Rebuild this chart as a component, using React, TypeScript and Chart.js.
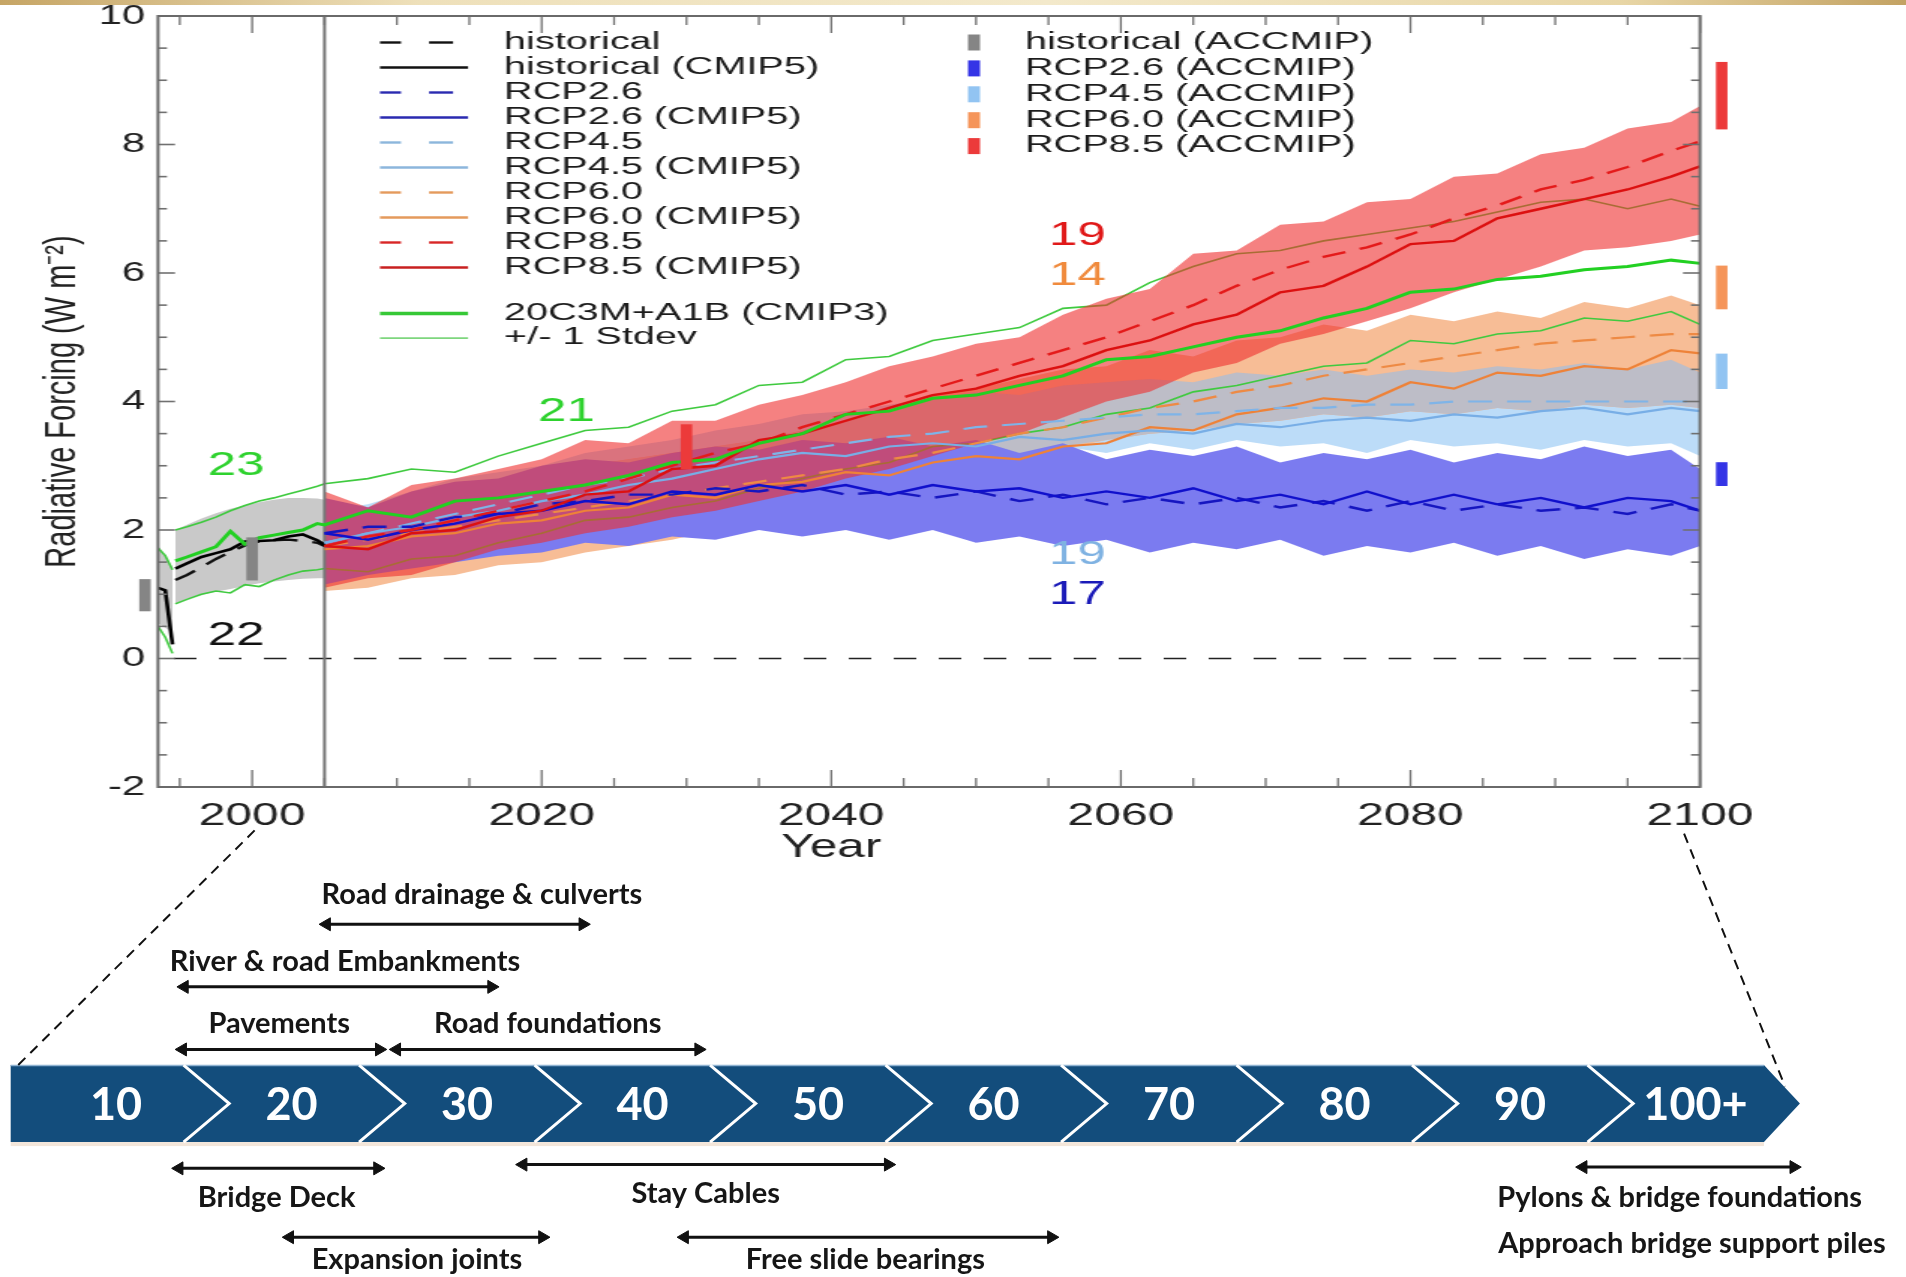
import React, { useEffect, useRef } from "react";
import { Chart, registerables } from "chart.js";

Chart.register(...registerables);

const FONT = "'Liberation Sans', Arial, Helvetica, sans-serif";
const TL_FONT = "Lato, 'Open Sans', sans-serif";

// ---------------- top chart data ----------------
const HIST_YEARS = [1993.5, 1994, 1994.5, 1994.6, 1994.7, 1995.5, 1996.5, 1997.5, 1998.5, 1999.5, 2000.5, 2001.5, 2002.5, 2003.5, 2004.5, 2005];
const HIST_SOLID = [1.1, 1.06, 0.22, null, 1.4, 1.48, 1.58, 1.64, 1.7, 1.82, 1.83, 1.84, 1.9, 1.93, 1.84, 1.77];
const HIST_DASHED = [null, null, null, null, 1.22, 1.3, 1.42, 1.55, 1.66, 1.76, 1.82, 1.84, 1.85, 1.83, 1.8, 1.75];
const HIST_GREY_HI = [1.75, 1.6, 1.42, null, 2.0, 2.08, 2.18, 2.26, 2.33, 2.38, 2.43, 2.47, 2.5, 2.5, 2.49, 2.47];
const HIST_GREY_LO = [0.55, 0.48, 0.4, null, 0.85, 0.93, 0.99, 1.04, 1.08, 1.13, 1.17, 1.2, 1.22, 1.24, 1.25, 1.25];
const CMIP3_MEAN_HIST = [null, null, null, null, 1.52, 1.58, 1.66, 1.74, 1.98, 1.78, 1.88, 1.92, 1.96, 2.0, 2.1, 2.08];
const CMIP3_HI_HIST = [1.72, 1.6, 1.38, null, 2.0, 2.05, 2.12, 2.2, 2.3, 2.38, 2.45, 2.5, 2.56, 2.62, 2.68, 2.72];
const CMIP3_LO_HIST = [0.5, 0.33, 0.08, null, 0.85, 0.92, 1.0, 1.05, 1.02, 1.15, 1.12, 1.22, 1.3, 1.36, 1.38, 1.4];

const FUT_YEARS = [2005, 2008, 2011, 2014, 2017, 2020, 2023, 2026, 2029, 2032, 2035, 2038, 2041, 2044, 2047, 2050, 2053, 2056, 2059, 2062, 2065, 2068, 2071, 2074, 2077, 2080, 2083, 2086, 2089, 2092, 2095, 2098, 2100];

const RCP85_HI = [2.6, 2.35, 2.7, 2.8, 2.95, 3.1, 3.4, 3.35, 3.7, 3.7, 3.95, 4.1, 4.3, 4.55, 4.7, 4.9, 5.0, 5.35, 5.6, 5.75, 6.3, 6.35, 6.75, 6.8, 7.1, 7.15, 7.5, 7.55, 7.85, 7.95, 8.25, 8.35, 8.6];
const RCP85_LO = [1.1, 1.25, 1.3, 1.5, 1.7, 1.8, 1.95, 2.05, 2.2, 2.3, 2.45, 2.6, 2.8, 2.95, 3.15, 3.35, 3.5, 3.75, 4.0, 4.15, 4.45, 4.6, 4.9, 5.05, 5.25, 5.45, 5.7, 5.9, 6.1, 6.35, 6.4, 6.5, 6.6];
const RCP26_HI = [2.5, 2.35, 2.6, 2.75, 2.8, 3.0, 3.1, 3.05, 3.2, 3.3, 3.25, 3.4, 3.35, 3.45, 3.3, 3.4, 3.2, 3.35, 3.1, 3.25, 3.15, 3.3, 3.05, 3.2, 3.1, 3.25, 3.05, 3.2, 3.1, 3.3, 3.15, 3.25, 2.95];
const RCP26_LO = [1.15, 1.3, 1.4, 1.5, 1.6, 1.65, 1.8, 1.75, 1.9, 1.85, 2.0, 1.9, 2.0, 1.85, 2.0, 1.8, 1.9, 1.75, 1.85, 1.65, 1.8, 1.7, 1.85, 1.6, 1.75, 1.65, 1.8, 1.6, 1.75, 1.55, 1.7, 1.6, 1.75];
const RCP45_HI = [2.3, 2.4, 2.6, 2.8, 2.9, 3.0, 3.2, 3.3, 3.4, 3.55, 3.65, 3.8, 3.85, 3.95, 4.05, 4.15, 4.1, 4.25, 4.3, 4.35, 4.3, 4.45, 4.4, 4.5, 4.4, 4.5, 4.45, 4.55, 4.5, 4.6, 4.5, 4.65, 4.45];
const RCP45_LO = [1.3, 1.45, 1.6, 1.75, 1.9, 2.0, 2.15, 2.3, 2.4, 2.55, 2.65, 2.75, 2.9, 3.0, 3.1, 3.2, 3.15, 3.3, 3.2, 3.35, 3.25, 3.4, 3.3, 3.35, 3.2, 3.4, 3.3, 3.35, 3.25, 3.4, 3.3, 3.35, 3.15];
const RCP60_HI = [2.2, 2.3, 2.45, 2.6, 2.7, 2.85, 3.0, 3.1, 3.2, 3.3, 3.4, 3.55, 3.7, 3.9, 4.1, 4.2, 4.35, 4.5, 4.55, 4.8, 4.7, 4.95, 5.0, 5.2, 5.1, 5.35, 5.25, 5.4, 5.3, 5.55, 5.45, 5.65, 5.5];
const RCP60_LO = [1.05, 1.1, 1.25, 1.3, 1.45, 1.5, 1.65, 1.75, 1.85, 2.0, 2.1, 2.3, 2.45, 2.6, 2.8, 2.95, 3.1, 3.25, 3.4, 3.5, 3.55, 3.65, 3.7, 3.8, 3.75, 3.85, 3.8, 3.9, 3.85, 3.95, 3.9, 3.95, 3.9];

const RCP26_CMIP5 = [1.95, 1.85, 2.0, 2.1, 2.25, 2.3, 2.45, 2.4, 2.6, 2.55, 2.7, 2.6, 2.7, 2.55, 2.7, 2.6, 2.65, 2.5, 2.6, 2.5, 2.65, 2.45, 2.55, 2.4, 2.6, 2.4, 2.55, 2.4, 2.5, 2.35, 2.5, 2.45, 2.3];
const RCP26_DASH = [1.95, 2.05, 2.05, 2.2, 2.25, 2.4, 2.45, 2.55, 2.55, 2.65, 2.6, 2.7, 2.55, 2.6, 2.5, 2.6, 2.45, 2.55, 2.4, 2.5, 2.4, 2.5, 2.35, 2.45, 2.3, 2.45, 2.3, 2.4, 2.3, 2.35, 2.25, 2.4, 2.3];
const RCP45_CMIP5 = [1.8, 1.95, 2.05, 2.2, 2.3, 2.45, 2.55, 2.7, 2.8, 2.95, 3.1, 3.2, 3.15, 3.3, 3.35, 3.3, 3.45, 3.4, 3.5, 3.55, 3.5, 3.65, 3.6, 3.7, 3.75, 3.7, 3.8, 3.75, 3.85, 3.9, 3.8, 3.9, 3.85];
const RCP45_DASH = [1.8, 1.95, 2.1, 2.25, 2.4, 2.55, 2.7, 2.8, 2.95, 3.05, 3.15, 3.25, 3.35, 3.45, 3.5, 3.6, 3.65, 3.7, 3.75, 3.8, 3.8, 3.85, 3.9, 3.9, 3.95, 3.95, 4.0, 4.0, 4.0, 4.0, 4.0, 4.0, 4.0];
const RCP60_CMIP5 = [1.7, 1.75, 1.9, 1.95, 2.1, 2.15, 2.3, 2.35, 2.55, 2.5, 2.7, 2.75, 2.9, 2.85, 3.05, 3.15, 3.1, 3.3, 3.35, 3.6, 3.55, 3.8, 3.9, 4.05, 4.0, 4.3, 4.2, 4.45, 4.4, 4.55, 4.5, 4.8, 4.75];
const RCP60_DASH = [1.75, 1.85, 1.95, 2.05, 2.15, 2.25, 2.35, 2.45, 2.55, 2.65, 2.75, 2.85, 2.95, 3.1, 3.2, 3.35, 3.5, 3.6, 3.75, 3.9, 4.0, 4.15, 4.25, 4.4, 4.5, 4.6, 4.7, 4.8, 4.9, 4.95, 5.0, 5.05, 5.05];
const RCP85_CMIP5 = [1.75, 1.7, 1.95, 2.0, 2.2, 2.3, 2.55, 2.6, 2.95, 3.0, 3.4, 3.5, 3.7, 3.9, 4.1, 4.2, 4.4, 4.55, 4.8, 4.95, 5.2, 5.35, 5.7, 5.8, 6.1, 6.45, 6.5, 6.85, 7.0, 7.15, 7.3, 7.5, 7.66];
const RCP85_DASH = [1.75, 1.9, 2.0, 2.15, 2.3, 2.45, 2.6, 2.8, 3.0, 3.2, 3.35, 3.6, 3.8, 4.0, 4.2, 4.4, 4.6, 4.8, 5.0, 5.25, 5.5, 5.8, 6.05, 6.25, 6.4, 6.6, 6.85, 7.05, 7.3, 7.45, 7.65, 7.9, 8.05];

const CMIP3_MEAN_FUT = [2.08, 2.3, 2.2, 2.45, 2.5, 2.6, 2.7, 2.85, 3.05, 3.1, 3.35, 3.5, 3.8, 3.85, 4.05, 4.1, 4.25, 4.4, 4.65, 4.7, 4.85, 5.0, 5.1, 5.3, 5.45, 5.7, 5.75, 5.9, 5.95, 6.05, 6.1, 6.2, 6.15];
const CMIP3_HI_FUT = [2.72, 2.8, 2.95, 2.9, 3.15, 3.35, 3.55, 3.6, 3.85, 3.95, 4.25, 4.3, 4.65, 4.7, 4.95, 5.05, 5.15, 5.45, 5.5, 5.85, 6.1, 6.3, 6.35, 6.5, 6.6, 6.7, 6.8, 6.95, 7.1, 7.15, 7.0, 7.15, 7.04];
const CMIP3_LO_FUT = [1.4, 1.35, 1.55, 1.6, 1.8, 1.95, 2.15, 2.2, 2.35, 2.45, 2.65, 2.8, 2.95, 3.05, 3.3, 3.35, 3.5, 3.6, 3.8, 3.9, 4.15, 4.25, 4.4, 4.55, 4.6, 4.95, 4.9, 5.05, 5.1, 5.3, 5.25, 5.4, 5.2];

// ACCMIP bars
const ACC_X = [1992.6, 2000, 2030, 2101.5, 2101.5, 2101.5, 2101.5];
const ACC_LO = [0.74, 1.22, 2.95, 8.24, 5.44, 4.2, 2.69];
const ACC_HI = [1.23, 1.88, 3.64, 9.28, 6.11, 4.74, 3.05];
const ACC_COLORS = ["#858585", "#858585", "#ec3a3a", "#ec3a3a", "#f5955a", "#92c4f2", "#3434e6"];

// reference lines
const ZERO_X = [1994.6, 2100];
const VLINE_YEAR = 2005;

// model-count annotations
const ANNOT_TEXT = ["23", "22", "21", "19", "14", "19", "17"];
const ANNOT_X = [1998.9, 1998.9, 2021.7, 2057, 2057, 2057, 2057];
const ANNOT_Y = [3.0, 0.36, 3.84, 6.58, 5.96, 1.62, 1.0];
const ANNOT_COLOR = ["#2ed22e", "#111111", "#2ed22e", "#e01818", "#f08a3c", "#7fb2e2", "#1a1ab8"];

// axes
const X_TICK_YEARS = [2000, 2020, 2040, 2060, 2080, 2100];
const Y_TICK_VALUES = [-2, 0, 2, 4, 6, 8, 10];
const X_TITLE = "Year";
const X_TITLE_AT = 2040;

// legends
const LEG_LEFT_TEXT = ["historical", "historical (CMIP5)", "RCP2.6", "RCP2.6 (CMIP5)", "RCP4.5", "RCP4.5 (CMIP5)", "RCP6.0", "RCP6.0 (CMIP5)", "RCP8.5", "RCP8.5 (CMIP5)"];
const LEG_LEFT_COLOR = ["#111111", "#111111", "#2a2ab0", "#2a2ab0", "#8cb6dc", "#8cb6dc", "#e49a5c", "#e49a5c", "#d82626", "#c82020"];
const LEG_LEFT_DASHED = [true, false, true, false, true, false, true, false, true, false];
const LEG_CMIP3_TEXT = ["20C3M+A1B (CMIP3)", "+/- 1 Stdev"];
const LEG_RIGHT_TEXT = ["historical (ACCMIP)", "RCP2.6 (ACCMIP)", "RCP4.5 (ACCMIP)", "RCP6.0 (ACCMIP)", "RCP8.5 (ACCMIP)"];
const LEG_RIGHT_COLOR = ["#858585", "#3434e6", "#92c4f2", "#f5955a", "#ec3a3a"];

// ---------------- timeline data ----------------
const TL_SEG_LABELS = ["10", "20", "30", "40", "50", "60", "70", "80", "90", "100+"];
const TL_SEG_CENTERS = [10, 20, 30, 40, 50, 60, 70, 80, 90, 100];
const TL_START = 4;
const TL_END_FLAT = 103.9;
const TL_TIP = 105.95;
const TL_BAND_TOP = 0.75;
const TL_BAND_BOTTOM = -0.48;

const ARROW_START = [22.0, 13.9, 13.8, 26.0, 13.6, 33.2, 19.9, 42.4, 93.6];
const ARROW_END = [36.6, 31.4, 25.0, 43.2, 24.9, 54.0, 34.3, 63.3, 105.6];
const ARROW_LEVEL = [3, 2, 1, 1, -0.9, -0.84, -2, -2, -0.88];

const TL_LABEL_TEXT = ["Road drainage & culverts", "River & road Embankments", "Pavements", "Road foundations", "Bridge Deck", "Stay Cables", "Expansion joints", "Free slide bearings", "Pylons & bridge foundations", "Approach bridge support piles"];
const TL_LABEL_X = [30.85, 23.05, 19.3, 34.6, 19.15, 43.6, 27.15, 52.7, 99.1, 99.8];
const TL_LABEL_LEVEL = [3.48, 2.41, 1.42, 1.42, -1.375, -1.3, -2.36, -2.36, -1.375, -2.11];

const CONN_LEFT_X = [17.9, 4.42];
const CONN_LEFT_Y = [4.5, 0.75];
const CONN_RIGHT_X = [99.35, 105.1];
const CONN_RIGHT_Y = [4.45, 0.41];

// ---------------- geometry ----------------
const PAGE_W = 1906;
const TOP_CANVAS_W = 1271;
const TOP_H = 880;
const S = PAGE_W / TOP_CANVAS_W; // horizontal stretch of the plot image

const pts = (xs: number[], ys: (number | null)[]) => xs.map((x, i) => ({ x, y: ys[i] }));

function topConfig(): any {
  const ds: any[] = [];
  const addBand = (label: string, xs: number[], lo: any[], hi: any[], color: string, order: number) => {
    ds.push({ type: "line", label: label + " low", data: pts(xs, lo), borderWidth: 0, borderColor: "rgba(0,0,0,0)", pointRadius: 0, fill: false, order });
    ds.push({ type: "line", label: label + " high", data: pts(xs, hi), borderWidth: 0, borderColor: "rgba(0,0,0,0)", pointRadius: 0, fill: "-1", backgroundColor: color, order });
  };
  const addLine = (label: string, xs: number[], ys: any[], color: string, width: number, dashed: boolean, order: number) => {
    ds.push({ type: "line", label, data: pts(xs, ys), borderColor: color, borderWidth: width, borderDash: dashed ? [16, 10] : [], pointRadius: 0, fill: false, tension: 0, order });
  };

  const cmYears = HIST_YEARS.concat(FUT_YEARS.slice(1));
  const overlapLo = FUT_YEARS.map((_, i) => Math.max(RCP45_LO[i], RCP60_LO[i]));
  const overlapHi = FUT_YEARS.map((_, i) => Math.min(RCP45_HI[i], RCP60_HI[i]));

  addBand("historical spread", HIST_YEARS, HIST_GREY_LO, HIST_GREY_HI, "#c9c9c9", 100);
  addBand("RCP4.5 spread", FUT_YEARS, RCP45_LO, RCP45_HI, "#bcdcf8", 95);
  addBand("RCP6.0 spread", FUT_YEARS, RCP60_LO, RCP60_HI, "#f7bd96", 90);
  addBand("RCP4.5/6.0 overlap", FUT_YEARS, overlapLo, overlapHi, "#bdbdc7", 85);
  addBand("RCP2.6 spread", FUT_YEARS, RCP26_LO, RCP26_HI, "#7b7bf0", 80);
  addLine("+1 Stdev", cmYears, CMIP3_HI_HIST.concat(CMIP3_HI_FUT.slice(1)), "#3fca3f", 1.6, false, 75);
  addLine("-1 Stdev", cmYears, CMIP3_LO_HIST.concat(CMIP3_LO_FUT.slice(1)), "#3fca3f", 1.6, false, 75);
  addBand("RCP8.5 spread", FUT_YEARS, RCP85_LO, RCP85_HI, "rgba(238,45,45,0.6)", 70);

  ds.push({ type: "line", label: "zero", data: pts(ZERO_X, [0, 0]), borderColor: "#222", borderWidth: 1.6, borderDash: [15, 15], pointRadius: 0, fill: false, order: 65 });
  ds.push({ type: "line", label: "2005", data: pts([VLINE_YEAR, VLINE_YEAR], [-2, 10]), borderColor: "#767676", borderWidth: 2, pointRadius: 0, fill: false, order: 64 });

  addLine("historical", HIST_YEARS, HIST_DASHED, "#111111", 2.4, true, 50);
  addLine("historical (CMIP5)", HIST_YEARS, HIST_SOLID, "#000000", 2.6, false, 49);
  addLine("RCP6.0", FUT_YEARS, RCP60_DASH, "#ee8a44", 2.2, true, 45);
  addLine("RCP6.0 (CMIP5)", FUT_YEARS, RCP60_CMIP5, "#ee8238", 2.2, false, 44);
  addLine("RCP4.5", FUT_YEARS, RCP45_DASH, "#7fb4e8", 2.2, true, 40);
  addLine("RCP4.5 (CMIP5)", FUT_YEARS, RCP45_CMIP5, "#78aee6", 2.2, false, 39);
  addLine("RCP2.6", FUT_YEARS, RCP26_DASH, "#1616c0", 2.4, true, 35);
  addLine("RCP2.6 (CMIP5)", FUT_YEARS, RCP26_CMIP5, "#1010cc", 2.4, false, 34);
  addLine("RCP8.5", FUT_YEARS, RCP85_DASH, "#e41a1a", 2.4, true, 30);
  addLine("RCP8.5 (CMIP5)", FUT_YEARS, RCP85_CMIP5, "#dc1010", 2.4, false, 29);
  addLine("20C3M+A1B (CMIP3)", cmYears, CMIP3_MEAN_HIST.concat(CMIP3_MEAN_FUT.slice(1)), "#22d022", 3, false, 20);

  ds.push({
    type: "bar", label: "ACCMIP",
    data: ACC_X.map((x, i) => ({ x, y: [ACC_LO[i], ACC_HI[i]] })),
    backgroundColor: ACC_COLORS, borderWidth: 0, barThickness: 7, grouped: false, clip: false, order: 10,
  });

  const minorX: number[] = [];
  for (let v = 1995; v < 2100; v += 5) if (v % 20 !== 0) minorX.push(v);
  const minorY: number[] = [];
  for (let v = -1.5; v < 10; v += 0.5) if (Math.abs(v % 2) > 1e-9) minorY.push(v);

  const deco = {
    id: "topDeco",
    afterDraw(chart: any) {
      const { ctx, chartArea: a, scales } = chart;
      const xs = scales.x, ys = scales.y;
      const seg = (x1: number, y1: number, x2: number, y2: number) => { ctx.beginPath(); ctx.moveTo(x1, y1); ctx.lineTo(x2, y2); ctx.stroke(); };
      ctx.save();
      // annotations
      ctx.font = `34px ${FONT}`;
      ctx.textAlign = "center";
      ctx.textBaseline = "middle";
      ANNOT_TEXT.forEach((t, i) => {
        ctx.fillStyle = ANNOT_COLOR[i];
        ctx.fillText(t, xs.getPixelForValue(ANNOT_X[i]), ys.getPixelForValue(ANNOT_Y[i]));
      });
      // x-axis title, centred under 2040 as in the original figure
      ctx.fillStyle = "#222";
      ctx.font = `33px ${FONT}`;
      ctx.fillText(X_TITLE, xs.getPixelForValue(X_TITLE_AT), 848);
      // inward ticks
      ctx.strokeStyle = "#707070";
      ctx.lineWidth = 1.3;
      minorX.forEach((v) => { const p = xs.getPixelForValue(v); seg(p, a.bottom, p, a.bottom - 9); seg(p, a.top, p, a.top + 9); });
      X_TICK_YEARS.forEach((v) => { const p = xs.getPixelForValue(v); seg(p, a.bottom, p, a.bottom - 17); seg(p, a.top, p, a.top + 17); });
      ctx.lineWidth = 1.6;
      minorY.forEach((v) => { const p = ys.getPixelForValue(v); seg(a.left, p, a.left + 9 / S, p); seg(a.right, p, a.right - 9 / S, p); });
      Y_TICK_VALUES.forEach((v) => { const p = ys.getPixelForValue(v); seg(a.left, p, a.left + 17 / S, p); seg(a.right, p, a.right - 17 / S, p); });
      // frame
      ctx.strokeStyle = "#6a6a6a";
      ctx.lineWidth = 2;
      ctx.strokeRect(a.left, a.top, a.right - a.left, a.bottom - a.top);

      // legend
      const EXTRA = 1.15;
      const txt = (t: string, xCss: number, y: number) => {
        ctx.save(); ctx.translate(xCss / S, y); ctx.scale(EXTRA, 1); ctx.fillText(t, 0, 0); ctx.restore();
      };
      ctx.font = `23px ${FONT}`;
      ctx.textAlign = "left";
      ctx.textBaseline = "middle";
      LEG_LEFT_TEXT.forEach((t, i) => {
        const y = 42.5 + i * 25;
        ctx.strokeStyle = LEG_LEFT_COLOR[i];
        ctx.lineWidth = 2.4;
        if (LEG_LEFT_DASHED[i]) { seg(380 / S, y, 401 / S, y); seg(429 / S, y, 453 / S, y); }
        else seg(380 / S, y, 468 / S, y);
        ctx.fillStyle = "#1c1c1c";
        txt(t, 504, y);
      });
      LEG_CMIP3_TEXT.forEach((t, i) => {
        const y = 313.6 + i * 24.5;
        ctx.strokeStyle = i === 0 ? "#36c836" : "#7ed67e";
        ctx.lineWidth = i === 0 ? 3.5 : 1.6;
        seg(380 / S, y, 468 / S, y);
        ctx.fillStyle = "#1c1c1c";
        txt(t, 504, y);
      });
      LEG_RIGHT_TEXT.forEach((t, i) => {
        const y = 42.5 + i * 25.9;
        ctx.fillStyle = LEG_RIGHT_COLOR[i];
        ctx.fillRect(968 / S, y - 8, 12 / S, 16);
        ctx.fillStyle = "#1c1c1c";
        txt(t, 1025, y);
      });
      ctx.restore();
    },
  };

  return {
    type: "line",
    data: { datasets: ds },
    plugins: [deco],
    options: {
      responsive: false,
      maintainAspectRatio: false,
      devicePixelRatio: 1,
      animation: false,
      events: [],
      layout: { padding: { left: 0, right: TOP_CANVAS_W - 1700 / S, top: 16, bottom: 0 } },
      plugins: { legend: { display: false }, tooltip: { enabled: false }, filler: { propagate: false } },
      scales: {
        x: {
          type: "linear", min: 1993.5, max: 2100, offset: false,
          grid: { display: false, drawTicks: false, offset: false }, border: { display: false },
          afterBuildTicks: (s: any) => { s.ticks = X_TICK_YEARS.map((v) => ({ value: v })); },
          afterFit: (s: any) => { s.height = TOP_H - 787; s.paddingLeft = 0; s.paddingRight = 0; },
          ticks: { font: { family: FONT, size: 32 }, color: "#222", padding: 10, maxRotation: 0, autoSkip: false, callback: (v: any) => String(v) },
          title: { display: false, text: X_TITLE },
        },
        y: {
          type: "linear", min: -2, max: 10, offset: false,
          grid: { display: false, drawTicks: false }, border: { display: false },
          afterBuildTicks: (s: any) => { s.ticks = Y_TICK_VALUES.map((v) => ({ value: v })); },
          afterFit: (s: any) => { s.width = 158 / S; s.paddingTop = 0; s.paddingBottom = 0; },
          ticks: { font: { family: FONT, size: 28 }, color: "#222", padding: 8.5, autoSkip: false, callback: (v: any) => String(v) },
          title: { display: true, text: "Radiative Forcing (W m⁻²)", font: { family: FONT, size: 29 }, color: "#222", padding: { top: 24.6, bottom: 0 } },
        },
      },
    },
  };
}

function tlConfig(): any {
  const ds: any[] = [];
  ds.push({ type: "line", label: "connector left", data: pts(CONN_LEFT_X, CONN_LEFT_Y), borderColor: "#111", borderWidth: 2, borderDash: [10, 7], pointRadius: 0, fill: false });
  ds.push({ type: "line", label: "connector right", data: pts(CONN_RIGHT_X, CONN_RIGHT_Y), borderColor: "#111", borderWidth: 2, borderDash: [10, 7], pointRadius: 0, fill: false });
  ARROW_START.forEach((s, i) => {
    ds.push({
      type: "line", label: TL_LABEL_TEXT[i],
      data: [{ x: s, y: ARROW_LEVEL[i] }, { x: ARROW_END[i], y: ARROW_LEVEL[i] }],
      borderColor: "#111", borderWidth: 3, fill: false,
      pointStyle: "triangle", pointRadius: 7.5, pointRotation: [-90, 90],
      pointBackgroundColor: "#111", pointBorderColor: "#111", pointBorderWidth: 1,
    });
  });

  const deco = {
    id: "timelineDeco",
    beforeDatasetsDraw(chart: any) {
      const { ctx, scales } = chart;
      const X = (v: number) => scales.x.getPixelForValue(v);
      const yT = scales.y.getPixelForValue(TL_BAND_TOP);
      const yB = scales.y.getPixelForValue(TL_BAND_BOTTOM);
      const yM = (yT + yB) / 2;
      ctx.save();
      ctx.fillStyle = "#f3e6da";
      ctx.fillRect(X(TL_START), yB, X(TL_END_FLAT) - X(TL_START), 4);
      ctx.fillStyle = "#134d7c";
      ctx.beginPath();
      ctx.moveTo(X(TL_START), yT);
      ctx.lineTo(X(TL_END_FLAT), yT);
      ctx.lineTo(X(TL_TIP), yM);
      ctx.lineTo(X(TL_END_FLAT), yB);
      ctx.lineTo(X(TL_START), yB);
      ctx.closePath();
      ctx.fill();
      ctx.strokeStyle = "#8fb3d2";
      ctx.lineWidth = 1.5;
      ctx.beginPath(); ctx.moveTo(X(TL_START), yT + 0.5); ctx.lineTo(X(TL_END_FLAT), yT + 0.5); ctx.stroke();
      ctx.strokeStyle = "#ffffff";
      ctx.lineWidth = 3;
      ctx.lineJoin = "miter";
      TL_SEG_CENTERS.slice(0, -1).forEach((c) => {
        ctx.beginPath();
        ctx.moveTo(X(c + 3.85), yT);
        ctx.lineTo(X(c + 6.45), yM);
        ctx.lineTo(X(c + 3.85), yB);
        ctx.stroke();
      });
      ctx.fillStyle = "#ffffff";
      ctx.font = `bold 45px ${TL_FONT}`;
      ctx.textAlign = "center";
      ctx.textBaseline = "middle";
      TL_SEG_LABELS.forEach((t, i) => ctx.fillText(t, X(TL_SEG_CENTERS[i]), yM + 2));
      ctx.restore();
    },
    afterDatasetsDraw(chart: any) {
      const { ctx, scales } = chart;
      ctx.save();
      ctx.fillStyle = "#161616";
      ctx.font = `bold 29px ${TL_FONT}`;
      ctx.textAlign = "center";
      ctx.textBaseline = "middle";
      TL_LABEL_TEXT.forEach((t, i) => {
        ctx.fillText(t, scales.x.getPixelForValue(TL_LABEL_X[i]), scales.y.getPixelForValue(TL_LABEL_LEVEL[i]));
      });
      ctx.restore();
    },
  };

  return {
    type: "line",
    data: { datasets: ds },
    plugins: [deco],
    options: {
      responsive: false,
      maintainAspectRatio: false,
      devicePixelRatio: 1,
      animation: false,
      events: [],
      layout: { padding: { left: 10.7, right: 8.7, top: 1.6, bottom: 5 } },
      plugins: { legend: { display: false }, tooltip: { enabled: false } },
      scales: {
        x: { type: "linear", min: 4, max: 111.5, display: false, offset: false },
        y: { type: "linear", min: -2.5, max: 4.85, display: false },
      },
    },
  };
}

export default function App() {
  const topRef = useRef<HTMLCanvasElement>(null);
  const tlRef = useRef<HTMLCanvasElement>(null);
  useEffect(() => {
    const top = new Chart(topRef.current as HTMLCanvasElement, topConfig());
    const tl = new Chart(tlRef.current as HTMLCanvasElement, tlConfig());
    return () => { top.destroy(); tl.destroy(); };
  }, []);
  return (
    <div style={{ position: "absolute", left: 0, top: 0, width: PAGE_W, height: 1277, overflow: "hidden", background: "#ffffff" }}>
      <div style={{ position: "absolute", left: 0, top: 0, width: PAGE_W, height: 5, background: "linear-gradient(90deg,#c6a565 0%,#eee0ba 22%,#f3e9cb 55%,#e8d6a6 85%,#c3a263 100%)" }} />
      <canvas ref={topRef} width={TOP_CANVAS_W} height={TOP_H} style={{ position: "absolute", left: 0, top: 0, width: PAGE_W + "px", height: TOP_H + "px" }} />
      <canvas ref={tlRef} width={PAGE_W} height={477} style={{ position: "absolute", left: 0, top: "800px", width: PAGE_W + "px", height: "477px" }} />
    </div>
  );
}
